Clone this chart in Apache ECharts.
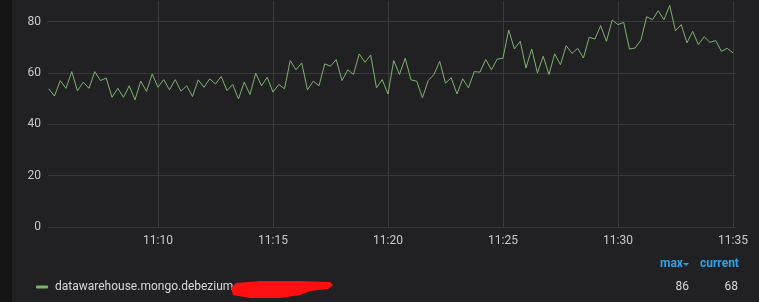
<!DOCTYPE html>
<html>
<head>
<meta charset="utf-8">
<script src="https://cdn.jsdelivr.net/npm/echarts@6/dist/echarts.min.js"></script>
<style>
html,body{margin:0;padding:0;background:#212124;}
#c{width:759px;height:302px;}
</style>
</head>
<body>
<div id="c"></div>
<script>
// ---- data ----
const seriesName = 'datawarehouse.mongo.debezium';
const startTime = '11:05:15';   // first sample
const stepSeconds = 15;         // sample spacing
const values = [
  53.8, 51, 57, 54, 60.5, 53, 56.4, 54, 60.5, 57, 58, 50.5, 54, 50.5, 55, 49.5,
  56.8, 52.8, 59.6, 54.4, 57.4, 53.4, 57.4, 52.9, 55, 50.8, 57.3, 54.4, 57.7, 55.7,
  58.6, 53.1, 55.5, 49.9, 56.4, 51.6, 59.9,
  55, 58.3, 52.5, 55.5, 53.8, 64.8, 61.2, 63.9, 53.4, 56.8, 55, 63.5, 62.6, 65.2,
  57, 61.2, 59.4, 67.4, 64.1, 67, 54.2, 57.4, 51.8, 64.8, 59.4, 65.7, 57.3, 56.8,
  50.3, 57, 59.4, 64.5, 56, 58.1, 51.8, 57.7, 54.2, 60.5, 60.3, 65.2, 61.2, 65.4, 65.7,
  76.7, 69.3, 72.3, 61.9, 69.3, 60, 66.5, 59.4, 67.4, 63.2, 70.6, 67.6, 69.6, 65.8,
  73.9, 73.2, 78.4, 72.3, 80.6, 78.8, 79.7, 69.3, 69.7, 72.8, 81.9, 80.7, 84.2, 80.7,
  86.3, 76.4, 78.8, 71.7, 76.2, 71, 74.1, 71.9, 72.6, 68.4, 69.6, 67.8
];
const yTicks = [0, 20, 40, 60, 80];
const xTickMinutes = 5;
const xRange = ['11:05:00', '11:35:08'];
const legendHeaders = ['max', 'current'];

// ---- build ----
function t(hms) {
  const p = hms.split(':').map(Number);
  return new Date(2021, 0, 1, p[0], p[1], p[2] || 0).getTime();
}
const t0 = t(startTime);
const data = values.map((v, i) => [t0 + i * stepSeconds * 1000, v]);
const maxVal = Math.round(Math.max.apply(null, values));
const curVal = Math.round(values[values.length - 1]);
const STEP = xTickMinutes * 60 * 1000;

const FONT = 'Roboto';
const chart = echarts.init(document.getElementById('c'));
chart.setOption({
  backgroundColor: '#212124',
  animation: false,
  textStyle: { fontFamily: FONT },
  grid: { left: 43, right: 23, top: 1, bottom: 75, containLabel: false },
  xAxis: {
    type: 'value',
    min: t(xRange[0]),
    max: t(xRange[1]),
    interval: STEP,
    axisLine: { show: false },
    axisTick: { show: false },
    splitLine: { show: true, showMinLine: false, showMaxLine: false, lineStyle: { color: '#3a3a3c', width: 1 } },
    axisLabel: {
      color: '#c8c9cb', fontSize: 12, fontFamily: FONT, margin: 8,
      showMinLabel: false,
      formatter: (v) => {
        if (Math.round(v) % STEP !== 0) return '';
        const d = new Date(v);
        return d.getHours() + ':' + String(d.getMinutes()).padStart(2, '0');
      }
    }
  },
  yAxis: {
    type: 'value',
    min: 0,
    max: 88,
    interval: 20,
    axisLine: { show: false },
    axisTick: { show: false },
    splitLine: { show: true, showMaxLine: false, lineStyle: { color: '#3a3a3c', width: 1 } },
    axisLabel: {
      color: '#c8c9cb', fontSize: 12, fontFamily: FONT, margin: 2,
      showMaxLabel: false,
      formatter: (v) => (yTicks.indexOf(v) >= 0 ? String(v) : '')
    }
  },
  legend: {
    show: true,
    left: 36,
    top: 281,
    padding: 0,
    icon: 'roundRect',
    itemWidth: 12,
    itemHeight: 3,
    itemGap: 10,
    textStyle: { color: '#d8d9da', fontSize: 12, fontFamily: FONT, padding: [0, 0, 0, 2] },
    data: [seriesName]
  },
  graphic: [
    { type: 'rect', left: 0, top: 0, shape: { width: 12, height: 302 }, style: { fill: '#141415' }, z: -1 },
    // plot area starts at x=48: mask the 5px left of it
    { type: 'rect', left: 43, top: 0, shape: { width: 5, height: 229 }, style: { fill: '#212124' }, z: 1 },
    { type: 'polygon', shape: { points: [[231,288],[236,283],[260,281],[300,281],[330,282],[333,285],[328,289],[310,291],[300,295],[280,298],[250,298],[233,295]] },
      style: { fill: '#ff1010' }, z: 10 },
    { type: 'text', left: 660, top: 258, style: { text: legendHeaders[0], fill: '#33a2e5', font: 'bold 12px ' + FONT } },
    { type: 'polygon', shape: { points: [[683,263],[689,263],[686,266]] }, style: { fill: '#33a2e5' } },
    { type: 'text', left: 700, top: 258, style: { text: legendHeaders[1], fill: '#33a2e5', font: 'bold 12px ' + FONT } },
    { type: 'text', right: 759 - 689, top: 281, style: { text: String(maxVal), fill: '#d8d9da', font: '12px ' + FONT } },
    { type: 'text', right: 759 - 738, top: 281, style: { text: String(curVal), fill: '#d8d9da', font: '12px ' + FONT } }
  ],
  series: [{
    name: seriesName,
    type: 'line',
    data: data,
    showSymbol: false,
    symbol: 'none',
    smooth: false,
    lineStyle: { color: '#7eb26d', width: 1 },
    itemStyle: { color: '#7eb26d' }
  }]
});
</script>
</body>
</html>
